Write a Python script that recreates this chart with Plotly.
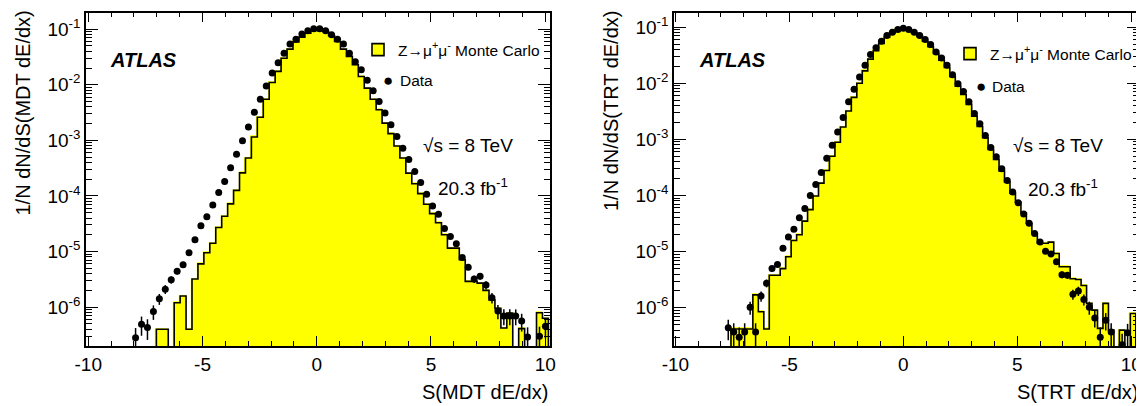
import numpy as np
import plotly.graph_objects as go

FONT = "Liberation Sans, Arial, Helvetica, sans-serif"
W, H = 1144, 406
OFF = 8  # page body offset of the plot div

# ---------------- binning ----------------
mdt_first_edge = -10.14
mdt_bin_width = 0.26
trt_first_edge = -10.20
trt_bin_width = 0.24

# ---------------- MDT panel (values per bin, None = empty) ----------------
mdt_mc = [None] * 12 + [
    4.0e-7, 4.0e-7, None, 1.2e-6, 1.58e-6, 4.0e-7, 3.2e-6, 6.0e-6, 9.5e-6, 1.41e-5,
    2.7e-5, 4.3e-5, 7.2e-5, 1.26e-4, 2.6e-4, 4.8e-4, 1.15e-3, 2.6e-3, 5.5e-3, 0.011,
    0.0174, 0.030, 0.0437, 0.059, 0.072, 0.085, 0.095, 0.098, 0.091, 0.076,
    0.060, 0.0437, 0.0324, 0.0229, 0.0141, 0.0087, 0.0055, 0.00355, 0.00204, 0.00132,
    7.9e-4, 4.8e-4, 2.57e-4, 1.66e-4, 1.10e-4, 7.1e-5, 4.8e-5, 3.3e-5, 2.0e-5, 1.15e-5,
    1.15e-5, 7.1e-6, 2.9e-6, 2.9e-6, 2.7e-6, 2.0e-6, 1.35e-6, 9.5e-7, 4.2e-7, 7.8e-7,
    None, 4.1e-7, None, None, 7.9e-7, 6.3e-7]

mdt_data = [None] * 8 + [
    2.8e-7, 4.9e-7, 4.3e-7, 8.3e-7, 1.41e-6, 2.1e-6, 3.1e-6, 4.4e-6, 5.8e-6, 9.5e-6,
    1.62e-5, 2.9e-5, 4.2e-5, 6.9e-5, 1.15e-4, 1.82e-4, 3.2e-4, 5.6e-4, 9.8e-4, 1.74e-3,
    3.2e-3, 5.5e-3, 9.5e-3, 0.0162, 0.025, 0.037, 0.054, 0.066, 0.082, 0.094,
    0.102, 0.102, 0.094, 0.079, 0.066, 0.054, 0.037, 0.026, 0.0186, 0.012,
    0.0078, 0.0050, 0.0031, 0.0019, 0.00117, 7.2e-4, 4.5e-4, 2.75e-4, 1.74e-4, 1.07e-4,
    6.6e-5, 4.7e-5, 2.6e-5, 1.86e-5, 1.38e-5, 7.8e-6, 5.2e-6, 3.2e-6, 3.6e-6, 2.5e-6,
    1.48e-6, 8.5e-7, 6.9e-7, 6.9e-7, 6.9e-7, 5.6e-7, 2.9e-7, None, 3.0e-7, 4.5e-7]

# ---------------- TRT panel ----------------
trt_mc = [None] * 11 + [
    4.2e-7, 4.2e-7, 4.2e-7, 4.2e-7, 1.7e-6, 8.5e-7, 4.2e-7, 3.8e-6, 3.8e-6, 5.0e-6,
    8.1e-6, 1.58e-5, 2.0e-5, 3.5e-5, 5.6e-5, 9.8e-5, 1.66e-4, 2.8e-4, 5.0e-4, 8.9e-4,
    1.66e-3, 3.2e-3, 5.6e-3, 0.010, 0.0166, 0.0269, 0.038, 0.051, 0.066, 0.079,
    0.089, 0.093, 0.089, 0.079, 0.068, 0.056, 0.0447, 0.0339, 0.0257, 0.0191,
    0.0132, 8.9e-3, 6.3e-3, 4.2e-3, 2.6e-3, 1.7e-3, 1.07e-3, 6.6e-4, 4.4e-4, 2.75e-4,
    1.74e-4, 1.10e-4, 7.6e-5, 4.9e-5, 3.2e-5, 2.1e-5, 1.41e-5, 1.41e-5, 1.48e-5, 9.3e-6,
    5.4e-6, 5.4e-6, 3.3e-6, 3.2e-6, 2.5e-6, 1.2e-6, 9.1e-7, 4.3e-7, 1.2e-6, 4.0e-7,
    None, 4.0e-7, None, 7.9e-7]

trt_data = [None] * 10 + [
    4.4e-7, 3.7e-7, 3.0e-7, 3.7e-7, 1.02e-6, 3.7e-7, 1.62e-6, 2.75e-6, 5.0e-6, 5.9e-6,
    1.15e-5, 1.82e-5, 2.5e-5, 4.0e-5, 5.9e-5, 1.0e-4, 1.58e-4, 2.57e-4, 4.6e-4, 7.9e-4,
    1.35e-3, 2.45e-3, 4.7e-3, 7.8e-3, 0.0129, 0.0209, 0.0324, 0.0427, 0.056, 0.071,
    0.081, 0.091, 0.095, 0.091, 0.081, 0.071, 0.060, 0.049, 0.036, 0.0282,
    0.0209, 0.0141, 9.8e-3, 7.1e-3, 4.7e-3, 2.9e-3, 1.9e-3, 1.17e-3, 7.2e-4, 4.9e-4,
    3.0e-4, 1.86e-4, 1.15e-4, 7.4e-5, 4.7e-5, 3.2e-5, 2.1e-5, 1.48e-5, 1.02e-5, 9.1e-6,
    6.6e-6, 3.9e-6, 3.8e-6, 1.74e-6, 2.0e-6, 1.41e-6, 1.02e-6, 6.6e-7, 3.0e-7, 6.0e-7,
    3.7e-7, None, 2.2e-7, 3.6e-7, None]

event_weight = 7e-8

# ---------------- ticks / labels ----------------
x_tick_vals = [-10, -5, 0, 5, 10]
x_tick_text = ["-10", "-5", "0", "5", "10"]
x_minor_vals = list(range(-10, 11))
y_tick_vals = [1e-6, 1e-5, 1e-4, 1e-3, 1e-2, 1e-1]
y_tick_text = ["10<sup>-6</sup>", "10<sup>-5</sup>", "10<sup>-4</sup>",
               "10<sup>-3</sup>", "10<sup>-2</sup>", "10<sup>-1</sup>"]
y_minor_vals = [k * 10.0 ** e for e in range(-7, 0) for k in range(2, 10)]

mc_name = "Z\u2192\u03bc<sup>+</sup>\u03bc<sup>-</sup> Monte Carlo"
data_name = "Data"
YELLOW = "#ffff00"

fig = go.Figure()


def add_panel(mc, data, first_edge, width, xa, ya, legend):
    n = len(mc)
    edges = first_edge + width * np.arange(n + 1)
    centers = edges[:-1] + width / 2.0
    # first (empty) bin carries the black border used by the legend box;
    # the other bins get a thin yellow border that closes the seams
    lw = [1.6] + [1.2] * (n - 1)
    lc = ["black"] + [YELLOW] * (n - 1)
    fig.add_trace(go.Bar(
        x=centers, y=mc, width=width, name=mc_name,
        marker=dict(color=YELLOW, line=dict(color=lc, width=lw)),
        xaxis=xa, yaxis=ya, legend=legend, legendgroup=legend + "mc",
        hoverinfo="skip"))
    floor = 1e-12
    ystep = [floor if v is None else v for v in mc]
    ystep = ystep + [ystep[-1], floor]
    xstep = list(edges) + [edges[-1]]
    fig.add_trace(go.Scatter(
        x=xstep, y=ystep, mode="lines",
        line=dict(shape="hv", color="black", width=1.6),
        xaxis=xa, yaxis=ya, showlegend=False, hoverinfo="skip"))
    dx, dy, de = [], [], []
    for c, v in zip(centers, data):
        if v is not None:
            dx.append(c)
            dy.append(v)
            de.append(float(np.sqrt(v * event_weight)))
    fig.add_trace(go.Scatter(
        x=dx, y=dy, mode="markers", name=data_name,
        marker=dict(color="black", size=7, symbol="circle"),
        error_y=dict(type="data", array=de, visible=True, color="black",
                     thickness=1.5, width=0),
        showlegend=False, xaxis=xa, yaxis=ya))


add_panel(mdt_mc, mdt_data, mdt_first_edge, mdt_bin_width, "x", "y", "legend")
add_panel(trt_mc, trt_data, trt_first_edge, trt_bin_width, "x2", "y2", "legend2")


def px(x):
    return (x - OFF) / W


def py(y):
    return 1 - (y - OFF) / H


def xaxis_style(dom, rng, anchor):
    return dict(
        domain=dom, range=rng, anchor=anchor,
        tickmode="array", tickvals=x_tick_vals, ticktext=x_tick_text,
        ticks="inside", ticklen=10, tickwidth=1, tickcolor="black",
        showline=True, linecolor="black", linewidth=1.5, mirror="allticks",
        showgrid=False, zeroline=False, automargin=False,
        minor=dict(tickmode="array", tickvals=x_minor_vals, ticks="inside",
                   ticklen=5, tickwidth=1, tickcolor="black", showgrid=False),
        tickfont=dict(family=FONT, size=19, color="black"))


def yaxis_style(dom, rng, anchor):
    return dict(
        domain=dom, range=rng, anchor=anchor, type="log",
        tickmode="array", tickvals=y_tick_vals, ticktext=y_tick_text,
        ticks="inside", ticklen=12, tickwidth=1, tickcolor="black",
        showline=True, linecolor="black", linewidth=1.5, mirror="allticks",
        showgrid=False, zeroline=False, automargin=False,
        minor=dict(tickmode="array", tickvals=y_minor_vals, ticks="inside",
                   ticklen=6, tickwidth=1, tickcolor="black", showgrid=False),
        tickfont=dict(family=FONT, size=19, color="black"))


ydom = [py(346), py(12.5)]
legend_common = dict(xanchor="left", yanchor="top", bgcolor="rgba(0,0,0,0)",
                     borderwidth=0, font=dict(family=FONT, size=15.5, color="black"))
layout = dict(
    width=W, height=H,
    margin=dict(l=0, r=0, t=0, b=0, pad=0, autoexpand=False),
    paper_bgcolor="white", plot_bgcolor="white",
    bargap=0, barmode="overlay",
    font=dict(family=FONT, color="black"),
    xaxis=xaxis_style([px(86), px(550)], [-10.1, 10.21], "y"),
    yaxis=yaxis_style(ydom, [-6.70, -0.70], "x"),
    xaxis2=xaxis_style([px(674), px(1139)], [-10.06, 10.34], "y2"),
    yaxis2=yaxis_style(ydom, [-6.68, -0.74], "x2"),
    legend=dict(x=px(358), y=py(33), **legend_common),
    legend2=dict(x=px(950), y=py(37), **legend_common),
    showlegend=True,
)
fig.update_layout(**layout)

annots = []


def text(x, y, s, size=19, xanchor="left", yanchor="middle", angle=0,
         bold_italic=False):
    if bold_italic:
        s = "<b><i>" + s + "</i></b>"
    annots.append(dict(x=px(x), y=py(y), xref="paper", yref="paper", text=s,
                       showarrow=False, xanchor=xanchor, yanchor=yanchor,
                       textangle=angle,
                       font=dict(family=FONT, size=size, color="black")))


# left panel texts
text(108, 60, "ATLAS", size=20, bold_italic=True)
text(421, 146, "\u221as = 8 TeV", size=19)
text(436, 187, "20.3 fb<sup>-1</sup>", size=19)
text(550, 392, "S(MDT dE/dx)", size=20, xanchor="right")
text(22, 9, "1/N dN/dS(MDT dE/dx)", size=20, xanchor="center",
     yanchor="top", angle=-90)
text(388, 80, "\u25cf", size=17, xanchor="center")
text(398, 80, data_name, size=15.5)
# right panel texts
text(697, 60, "ATLAS", size=20, bold_italic=True)
text(1011, 146, "\u221as = 8 TeV", size=19)
text(1026, 188, "20.3 fb<sup>-1</sup>", size=19)
text(1141, 392, "S(TRT dE/dx)", size=20, xanchor="right")
text(611, 9, "1/N dN/dS(TRT dE/dx)", size=20, xanchor="center",
     yanchor="top", angle=-90)
text(981, 86, "\u25cf", size=17, xanchor="center")
text(990, 86, data_name, size=15.5)

fig.update_layout(annotations=annots)
fig.write_html("out.html")
